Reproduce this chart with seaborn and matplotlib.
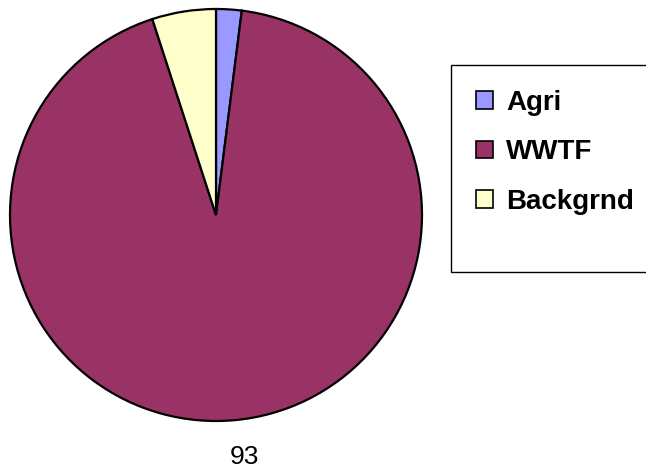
import matplotlib
matplotlib.use("Agg")
import matplotlib.pyplot as plt
import matplotlib.transforms as mtransforms
from matplotlib.patches import Rectangle
import seaborn as sns

sources = ["Agri", "WWTF", "Backgrnd"]
shares = [2, 93, 5]
labels_shown = ["", "93", ""]
colors = ["#9999FF", "#993366", "#FFFFCC"]

sns.set_theme(style="white")
plt.rcParams["font.family"] = ["Liberation Sans", "DejaVu Sans"]
plt.rcParams["text.color"] = "black"

W, H = 646, 470
fig = plt.figure(figsize=(W / 100, H / 100), dpi=100)
fig.patch.set_facecolor("white")

cx, cy, r = 216, 215, 206
ax = fig.add_axes([(cx - r) / W, (H - cy - r) / H, 2 * r / W, 2 * r / H])
wedges, texts = ax.pie(
    shares,
    labels=labels_shown,
    colors=colors,
    startangle=90,
    counterclock=False,
    labeldistance=1.18,
    wedgeprops=dict(edgecolor="black", linewidth=1.6),
)
ax.set_xlim(-1, 1)
ax.set_ylim(-1, 1)
ax.set_aspect("equal")
ax.axis("off")
for t in texts:
    t.set_clip_on(False)
    t.set_fontsize(19)
    t.set_color("black")
    t.set_horizontalalignment("center")
    t.set_transform(mtransforms.offset_copy(ax.transData, fig=fig, x=6, y=0, units="dots"))
for w in wedges:
    w.set_clip_on(False)

# legend frame runs past the right edge of the figure
fig.patches.append(Rectangle((451 / W, 1 - 272 / H), 0.4, (272 - 65) / H,
                             transform=fig.transFigure, facecolor="white",
                             edgecolor="black", linewidth=1.0, zorder=0))
leg = fig.legend(
    wedges, sources,
    loc="upper left", bbox_to_anchor=(476 / W, 1 - 90 / H),
    frameon=False, prop=dict(weight="bold", size=20),
    handlelength=0.61, handleheight=0.61, handletextpad=0.47,
    labelspacing=0.84, borderpad=0, borderaxespad=0,
)
for h in leg.legend_handles:
    h.set_linewidth(1.2)
    h.set_edgecolor("black")
for t in leg.get_texts():
    t.set_color("black")

fig.savefig("out.png", dpi=100)
